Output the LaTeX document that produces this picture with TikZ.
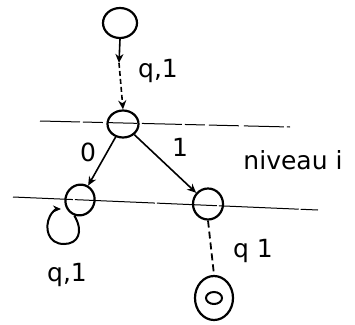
\documentclass[tikz,border=0pt]{standalone}
\usepackage{fontspec}
\setmainfont{DejaVu Sans}
\usetikzlibrary{arrows.meta,shapes.geometric}
\begin{document}
\begin{tikzpicture}[x=1pt,y=-1pt,
  st/.style={draw, ellipse, line width=2.2pt, inner sep=0pt},
  ed/.style={line width=1.6pt, -{Stealth[length=9pt,width=8pt]}},
  lvl/.style={line width=1pt},
  lab/.style={font=\fontsize{25}{28}\selectfont}]
\useasboundingbox (0,0) rectangle (355,324);
\node[st, minimum width=34pt, minimum height=30pt] (top) at (120,23) {};
\node[st, minimum width=31pt, minimum height=27pt] (mid) at (123,124) {};
\node[st, minimum width=29pt, minimum height=31pt, rotate=-20] (left) at (80,200) {};
\node[st, minimum width=30pt, minimum height=31pt] (right) at (208,204) {};
\node[st, minimum width=38pt, minimum height=44pt] (bot) at (214,298) {};
\node[st, minimum width=16pt, minimum height=12pt, line width=2pt] (boti) at (214,298) {};
\coordinate (m1) at (119,63);
\coordinate (l1a) at (40,121);
\coordinate (l1b) at (290,127);
\coordinate (l2a) at (13,197);
\coordinate (l2b) at (318,210);
% level lines
\draw[lvl, dash pattern=on 40pt off 3pt on 20pt off 4pt on 30pt off 5pt] (l1a) -- (l1b);
\draw[lvl, dash pattern=on 60pt off 2pt on 80pt off 2pt] (l2a) -- (l2b);
% top to mid
\draw[ed] (top.south) -- (m1);
\draw[ed, dash pattern=on 5pt off 3pt] (m1) -- (mid.north);
% mid to children
\draw[ed] (mid) -- (left);
\draw[ed] (mid) -- (right);
% self loop
\draw[line width=2pt, -{Stealth[length=8pt,width=7pt]}]
  (left.south) .. controls (84,232) and (78,244) .. (64,244) .. controls (48,244) and (44,228) .. (50,216) .. controls (52,212) and (56,209) .. (61,209);
% right to bottom
\draw[line width=1.8pt, dash pattern=on 7pt off 4pt] (right.south) -- (bot.north);
% labels
\node[lab] (q1) at (158,71) {q,1};
\node[lab] (l0) at (88,152) {0};
\node[lab] (l1) at (180,147) {1};
\node[lab] (niv) at (293,160) {niveau i};
\node[lab] (q2) at (253,251) {q 1};
\node[lab] (q3) at (67,275) {q,1};
\end{tikzpicture}
\end{document}
